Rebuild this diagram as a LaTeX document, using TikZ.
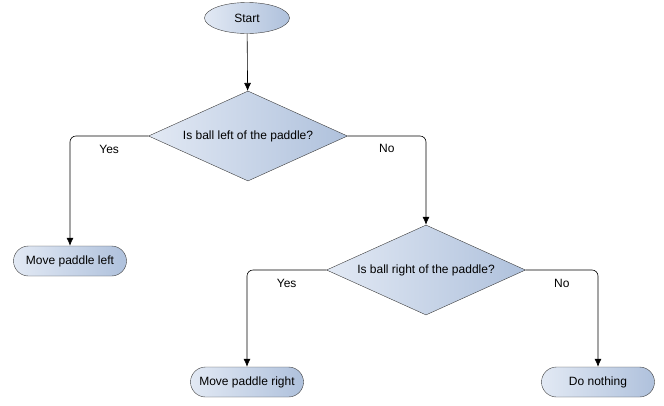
\documentclass[tikz,border=0pt]{standalone}
\usepackage{fontspec}
\setmainfont{Liberation Sans}
\usepackage{xcolor}
\definecolor{boxLight}{HTML}{E2E9F4}
\definecolor{boxDark}{HTML}{AFC1DC}
\definecolor{boxEdge}{HTML}{3C3C3C}
\usetikzlibrary{arrows.meta,shapes.geometric}
\tikzset{
  flowstart/.style={
    ellipse,
    draw=boxEdge,
    left color=boxLight,
    right color=boxDark,
    minimum width=85pt,
    minimum height=31pt,
    inner sep=0pt,
    font=\fontsize{12}{14}\selectfont
  },
  flowterm/.style={
    rectangle,
    draw=boxEdge,
    left color=boxLight,
    right color=boxDark,
    rounded corners=15pt,
    minimum width=113pt,
    minimum height=30pt,
    inner sep=0pt,
    font=\fontsize{12}{14}\selectfont
  },
  flowtest/.style={
    diamond,
    shape aspect=2.2,
    draw=boxEdge,
    left color=boxLight,
    right color=boxDark,
    minimum width=199pt,
    minimum height=90pt,
    inner sep=0pt,
    font=\fontsize{12}{14}\selectfont
  },
  flowline/.style={
    draw=black,
    -{Latex[length=8pt,width=7pt]},
    line width=0.6pt,
    rounded corners=6pt
  },
  flowlabel/.style={
    font=\fontsize{12}{14}\selectfont,
    inner sep=1pt
  }
}
\begin{document}
\begin{tikzpicture}[x=1pt,y=-1pt]
  \useasboundingbox (0,0) rectangle (664,405);
  \node[flowstart] (start) at (247,18) {Start};
  \node[flowtest] (leftq) at (248,136) {Is ball left of the paddle?};
  \node[flowterm] (moveleft) at (70,261) {Move paddle left};
  \node[flowtest] (rightq) at (426,270) {Is ball right of the paddle?};
  \node[flowterm] (moveright) at (247,382) {Move paddle right};
  \node[flowterm] (nothing) at (598,382) {Do nothing};
  \draw[flowline] (start) -- (leftq);
  \draw[flowline] (leftq.west) -| node[flowlabel,pos=0.25,below=8pt] {Yes} (moveleft.north);
  \draw[flowline] (leftq.east) -| node[flowlabel,pos=0.25,below=7pt] {No} (rightq.north);
  \draw[flowline] (rightq.west) -| node[flowlabel,pos=0.25,below=8pt] {Yes} (moveright.north);
  \draw[flowline] (rightq.east) -| node[flowlabel,pos=0.25,below=8pt] {No} (nothing.north);
\end{tikzpicture}
\end{document}
